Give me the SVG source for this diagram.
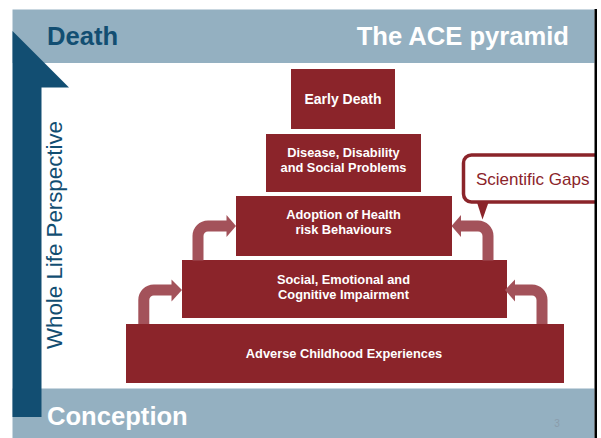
<svg xmlns="http://www.w3.org/2000/svg" width="601" height="438" viewBox="0 0 601 438">
<defs>
<style>
.band{fill:#94b0c1}
.dark{fill:#124e72}
.box{fill:#8b242a}
.bt{font-family:"Liberation Sans",Arial,sans-serif;font-weight:bold;font-size:12.8px;fill:#ffffff;text-anchor:middle}
.arr{fill:none;stroke:#a3525a;stroke-width:11}
.head{fill:#a3525a}
.title{font-family:"Liberation Sans",Arial,sans-serif;font-weight:bold;font-size:25.6px}
</style>
</defs>
<rect x="0" y="0" width="601" height="438" fill="#ffffff"/>
<g id="header">
<rect class="band" x="12.5" y="9.5" width="582" height="53.5"/>
<text class="title" x="47" y="44.5" fill="#124e72">Death</text>
<text class="title" x="569" y="44.5" fill="#ffffff" text-anchor="end">The ACE pyramid</text>
</g>
<g id="footer">
<rect class="band" x="12.5" y="388.5" width="582" height="50"/>
<text class="title" x="47" y="425" fill="#ffffff">Conception</text>
<text x="557" y="426.5" font-family="Liberation Sans,Arial,sans-serif" font-size="10" fill="#8a9cab" text-anchor="middle">3</text>
</g>
<g id="whole-life">
<polygon class="dark" points="12.5,31 69,87.5 41.5,87.5 41.5,417 12.5,417"/>
<text transform="translate(62,235) rotate(-90)" font-family="Liberation Sans,Arial,sans-serif" font-size="22.3" fill="#124e72" text-anchor="middle">Whole Life Perspective</text>
</g>
<g id="early-death">
<rect class="box" x="291" y="69" width="104" height="60"/>
<text class="bt" x="343" y="104" style="font-size:14px">Early Death</text>
</g>
<g id="disease">
<rect class="box" x="266" y="134" width="155" height="58"/>
<text class="bt" x="343.5" y="157">Disease, Disability</text>
<text class="bt" x="343.5" y="172">and Social Problems</text>
</g>
<g id="adoption">
<rect class="box" x="236" y="196" width="216" height="60"/>
<text class="bt" x="343.5" y="218.5">Adoption of Health</text>
<text class="bt" x="343.5" y="233.5">risk Behaviours</text>
</g>
<g id="social">
<rect class="box" x="182" y="260" width="325" height="58"/>
<text class="bt" x="343.5" y="284">Social, Emotional and</text>
<text class="bt" x="343.5" y="299">Cognitive Impairment</text>
</g>
<g id="ace">
<rect class="box" x="126" y="324" width="438" height="59"/>
<text class="bt" x="344" y="358">Adverse Childhood Experiences</text>
</g>
<g id="connectors">
<path class="arr" d="M143.8,324 V300 A10,10 0 0 1 153.8,290 H173"/>
<polygon class="head" points="171.5,279.5 182,290 171.5,301.5"/>
<path class="arr" d="M198,260.5 V236 A10,10 0 0 1 208,226 H228"/>
<polygon class="head" points="226.5,215 236,226 226.5,237"/>
<path class="arr" d="M488,260.5 V236 A10,10 0 0 0 478,226 H459"/>
<polygon class="head" points="461,215 451.5,226 461,237"/>
<path class="arr" d="M542,324 V300 A10,10 0 0 0 532,290 H515"/>
<polygon class="head" points="515,279.5 505,290 515,301.5"/>
</g>
<g id="scientific-gaps">
<rect x="463.5" y="155" width="160" height="47" rx="8" fill="#ffffff" stroke="#8b242a" stroke-width="3.5"/>
<polygon points="476.5,201 482.5,219.5 489,201" fill="#8b242a"/>
<text x="476" y="184.5" font-family="Liberation Sans,Arial,sans-serif" font-size="17" fill="#8b242a">Scientific Gaps</text>
</g>
<rect x="597" y="0" width="4" height="438" fill="#ffffff"/>
<rect x="594.5" y="9" width="2.5" height="429" fill="#000000"/>
</svg>
